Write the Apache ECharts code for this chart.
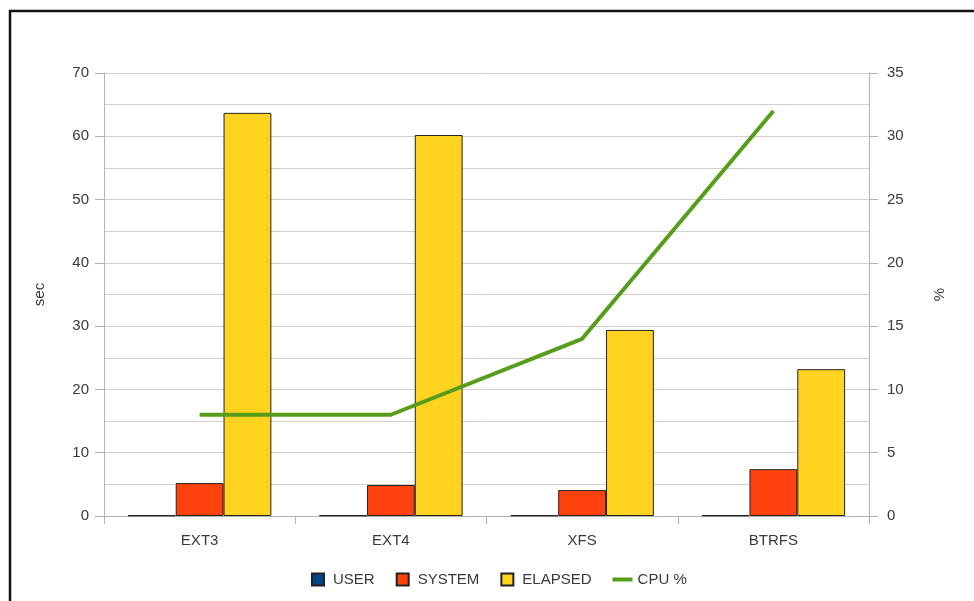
<!DOCTYPE html>
<html>
<head>
<meta charset="utf-8">
<script src="https://cdn.jsdelivr.net/npm/echarts@6/dist/echarts.min.js"></script>
<style>
  html, body { margin: 0; padding: 0; background: #fff; }
  #chart { width: 974px; height: 601px; }
</style>
</head>
<body>
<div id="chart"></div>
<script>
// Filesystem benchmark: times in seconds (left axis) and CPU usage (right axis)
const categories = ['EXT3', 'EXT4', 'XFS', 'BTRFS'];
const userSec = [0.1, 0.1, 0.1, 0.1];
const systemSec = [5.2, 4.9, 4.1, 7.4];
const elapsedSec = [63.7, 60.2, 29.4, 23.2];
const cpuPct = [8, 8, 14, 32];

const FONT = 'Liberation Sans, Arial, sans-serif';
const TEXT = '#3a3a3a';
const AXIS_GRAY = '#b3b3b3';
const FS = 15;

const chart = echarts.init(document.getElementById('chart'));

// legend icons: a bordered square for bars, a short thick stroke for the line
const square = 'path://M0,0H12V12H0Z';
const stroke = 'path://M0,0H20V4H0Z';

chart.setOption({
  animation: false,
  backgroundColor: '#fff',
  textStyle: { fontFamily: FONT },
  graphic: [{
    type: 'rect',
    shape: { x: 10, y: 11, width: 1000, height: 700 },
    style: { fill: 'none', stroke: '#111', lineWidth: 2.5 },
    z: 100
  }],
  grid: { left: 104, right: 105, top: 73, bottom: 85 },
  legend: {
    top: 567,
    left: 306,
    itemWidth: 20,
    itemHeight: 12,
    itemGap: 21,
    textStyle: { color: TEXT, fontSize: FS, fontFamily: FONT },
    data: [
      { name: 'USER', icon: square },
      { name: 'SYSTEM', icon: square },
      { name: 'ELAPSED', icon: square },
      { name: 'CPU %', icon: stroke, itemStyle: { color: '#579d1c', borderWidth: 0 } }
    ]
  },
  xAxis: {
    type: 'category',
    data: categories,
    axisLine: { lineStyle: { color: AXIS_GRAY } },
    axisTick: { show: true, length: 8, lineStyle: { color: AXIS_GRAY } },
    axisLabel: { color: TEXT, fontSize: FS, margin: 17 }
  },
  yAxis: [{
    type: 'value',
    name: 'sec',
    nameLocation: 'middle',
    nameGap: 57,
    nameTextStyle: { color: TEXT, fontSize: FS },
    min: 0, max: 70, interval: 10,
    axisLine: { show: true, lineStyle: { color: AXIS_GRAY } },
    axisTick: { show: true, length: 9, lineStyle: { color: AXIS_GRAY } },
    axisLabel: { color: TEXT, fontSize: FS, margin: 15 },
    splitLine: { lineStyle: { color: '#d0d0d0' } },
    minorTick: { show: false, splitNumber: 2 },
    minorSplitLine: { show: true, lineStyle: { color: '#d0d0d0' } }
  }, {
    type: 'value',
    name: '%',
    nameLocation: 'middle',
    nameGap: 63,
    nameRotate: 90,
    nameTextStyle: { color: TEXT, fontSize: FS },
    min: 0, max: 35, interval: 5,
    axisLine: { show: true, lineStyle: { color: AXIS_GRAY } },
    axisTick: { show: true, length: 9, lineStyle: { color: AXIS_GRAY } },
    axisLabel: { color: TEXT, fontSize: FS, margin: 18 },
    splitLine: { show: false }
  }],
  series: [{
    name: 'USER',
    type: 'bar',
    data: userSec,
    barGap: '0%',
    barCategoryGap: '25%',
    itemStyle: { color: '#004586', borderColor: '#222', borderWidth: 1 }
  }, {
    name: 'SYSTEM',
    type: 'bar',
    data: systemSec,
    itemStyle: { color: '#ff420e', borderColor: '#222', borderWidth: 1 }
  }, {
    name: 'ELAPSED',
    type: 'bar',
    data: elapsedSec,
    itemStyle: { color: '#ffd320', borderColor: '#222', borderWidth: 1 }
  }, {
    name: 'CPU %',
    type: 'line',
    yAxisIndex: 1,
    data: cpuPct,
    symbol: 'none',
    lineStyle: { color: '#579d1c', width: 4 },
    itemStyle: { color: '#579d1c' },
    z: 5
  }]
});
</script>
</body>
</html>
